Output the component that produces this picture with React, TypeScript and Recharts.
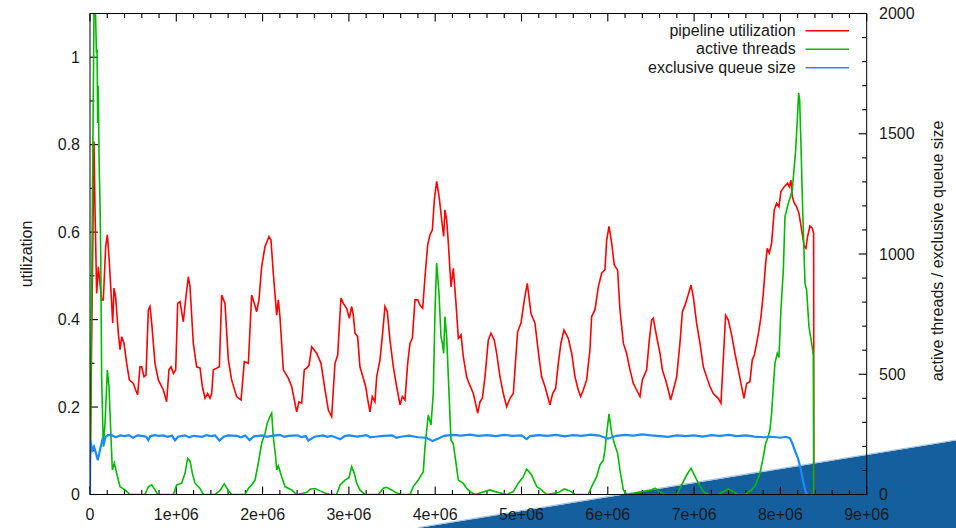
import React from 'react';
import { LineChart, Line, XAxis, YAxis, Legend, ReferenceLine } from 'recharts';

const FONT = '"Liberation Sans", Arial, Helvetica, sans-serif';
const INK = '#1a1a1a';

// pipeline utilization (left axis)
const utilX = [
  0, 25000, 46000, 58000, 77000, 97000, 108000, 135000, 154000, 182000,
  201000, 220000, 251000, 263000, 278000, 297000, 328000, 348000, 367000, 394000,
  425000, 456000, 502000, 529000, 552000, 579000, 599000, 626000, 649000, 676000,
  695000, 715000, 753000, 792000, 850000, 888000, 915000, 939000, 966000, 993000,
  1016000, 1043000, 1081000, 1108000, 1139000, 1159000, 1197000, 1236000, 1275000, 1302000,
  1333000, 1363000, 1390000, 1410000, 1429000, 1468000, 1499000, 1526000, 1564000, 1603000,
  1641000, 1699000, 1750000, 1788000, 1835000, 1873000, 1904000, 1931000, 1958000, 1989000,
  2028000, 2074000, 2097000, 2124000, 2163000, 2182000, 2201000, 2240000, 2298000, 2337000,
  2395000, 2422000, 2453000, 2483000, 2511000, 2538000, 2569000, 2626000, 2677000, 2723000,
  2762000, 2800000, 2839000, 2870000, 2908000, 2935000, 2974000, 3005000, 3032000, 3051000,
  3071000, 3101000, 3128000, 3167000, 3194000, 3225000, 3244000, 3271000, 3302000, 3322000,
  3360000, 3387000, 3418000, 3445000, 3476000, 3515000, 3553000, 3592000, 3619000, 3650000,
  3681000, 3708000, 3735000, 3766000, 3797000, 3824000, 3855000, 3882000, 3913000, 3940000,
  3967000, 3990000, 4017000, 4048000, 4075000, 4098000, 4113000, 4133000, 4152000, 4183000,
  4210000, 4241000, 4268000, 4299000, 4326000, 4364000, 4392000, 4442000, 4492000, 4519000,
  4546000, 4577000, 4615000, 4646000, 4685000, 4712000, 4751000, 4789000, 4828000, 4867000,
  4905000, 4932000, 4955000, 4994000, 5033000, 5067000, 5110000, 5156000, 5195000, 5233000,
  5272000, 5303000, 5330000, 5361000, 5396000, 5426000, 5457000, 5492000, 5542000, 5581000,
  5620000, 5658000, 5685000, 5716000, 5755000, 5793000, 5813000, 5851000, 5890000, 5929000,
  5967000, 5987000, 6014000, 6045000, 6075000, 6114000, 6141000, 6180000, 6218000, 6257000,
  6296000, 6334000, 6373000, 6400000, 6450000, 6481000, 6508000, 6527000, 6566000, 6605000,
  6632000, 6670000, 6701000, 6728000, 6759000, 6798000, 6836000, 6864000, 6895000, 6925000,
  6964000, 6991000, 7029000, 7068000, 7107000, 7145000, 7184000, 7222000, 7280000, 7311000,
  7338000, 7365000, 7396000, 7435000, 7473000, 7512000, 7543000, 7578000, 7609000, 7647000,
  7674000, 7698000, 7725000, 7752000, 7775000, 7802000, 7829000, 7848000, 7871000, 7898000,
  7929000, 7956000, 7983000, 8006000, 8045000, 8084000, 8103000, 8122000, 8138000, 8161000,
  8188000, 8215000, 8246000, 8277000, 8296000, 8315000, 8342000, 8369000, 8385000, 8388000,
];
const utilY = [
  0.03, 0.45, 0.807, 0.651, 0.46, 0.521, 0.498, 0.445, 0.445, 0.567,
  0.594, 0.544, 0.437, 0.392, 0.472, 0.452, 0.369, 0.331, 0.361, 0.346,
  0.3, 0.262, 0.254, 0.239, 0.228, 0.292, 0.292, 0.269, 0.273, 0.422,
  0.43, 0.392, 0.3, 0.262, 0.239, 0.212, 0.285, 0.292, 0.277, 0.285,
  0.437, 0.441, 0.395, 0.445, 0.498, 0.475, 0.346, 0.292, 0.289, 0.247,
  0.22, 0.231, 0.22, 0.231, 0.285, 0.289, 0.292, 0.456, 0.437, 0.308,
  0.262, 0.224, 0.216, 0.304, 0.3, 0.456, 0.437, 0.418, 0.445, 0.521,
  0.567, 0.59, 0.582, 0.506, 0.41, 0.445, 0.407, 0.285, 0.266, 0.247,
  0.189, 0.212, 0.209, 0.285, 0.289, 0.296, 0.338, 0.323, 0.3, 0.239,
  0.193, 0.178, 0.3, 0.319, 0.449, 0.437, 0.426, 0.403, 0.43, 0.41,
  0.369, 0.361, 0.292, 0.266, 0.247, 0.209, 0.189, 0.224, 0.212, 0.269,
  0.308, 0.361, 0.43, 0.418, 0.353, 0.292, 0.247, 0.205, 0.224, 0.216,
  0.3, 0.346, 0.357, 0.445, 0.445, 0.433, 0.426, 0.498, 0.571, 0.594,
  0.605, 0.674, 0.716, 0.677, 0.628, 0.59, 0.651, 0.628, 0.575, 0.475,
  0.517, 0.437, 0.357, 0.365, 0.315, 0.269, 0.254, 0.231, 0.186, 0.212,
  0.22, 0.269, 0.353, 0.369, 0.353, 0.323, 0.269, 0.231, 0.201, 0.22,
  0.231, 0.308, 0.372, 0.392, 0.445, 0.483, 0.414, 0.392, 0.326, 0.269,
  0.247, 0.224, 0.205, 0.231, 0.243, 0.3, 0.346, 0.376, 0.357, 0.323,
  0.269, 0.239, 0.224, 0.239, 0.262, 0.331, 0.407, 0.422, 0.475, 0.506,
  0.514, 0.582, 0.613, 0.575, 0.525, 0.513, 0.422, 0.346, 0.323, 0.285,
  0.254, 0.239, 0.224, 0.262, 0.285, 0.353, 0.399, 0.403, 0.361, 0.323,
  0.285, 0.262, 0.239, 0.216, 0.239, 0.269, 0.346, 0.418, 0.433, 0.452,
  0.479, 0.452, 0.392, 0.346, 0.292, 0.269, 0.247, 0.231, 0.22, 0.209,
  0.308, 0.41, 0.399, 0.365, 0.323, 0.285, 0.254, 0.22, 0.254, 0.258,
  0.308, 0.319, 0.346, 0.376, 0.407, 0.46, 0.529, 0.563, 0.552, 0.575,
  0.651, 0.666, 0.658, 0.693, 0.704, 0.712, 0.704, 0.719, 0.681, 0.666,
  0.658, 0.643, 0.605, 0.567, 0.563, 0.59, 0.614, 0.609, 0.597, 0,
];

// active threads (right axis)
const threadsX = [
  0, 46000, 55000, 64000, 75000, 82000, 89000, 95000, 108000, 116000,
  125000, 135000, 154000, 174000, 201000, 220000, 243000, 259000, 282000, 309000,
  348000, 406000, 463000, 637000, 676000, 715000, 753000, 784000, 966000, 1004000,
  1062000, 1101000, 1132000, 1159000, 1186000, 1217000, 1275000, 1313000, 1448000, 1506000,
  1556000, 1603000, 1641000, 1796000, 1835000, 1873000, 1912000, 1950000, 1989000, 2028000,
  2054000, 2085000, 2105000, 2124000, 2151000, 2163000, 2182000, 2221000, 2259000, 2337000,
  2395000, 2511000, 2549000, 2607000, 2665000, 2723000, 2781000, 2858000, 2897000, 2955000,
  3001000, 3032000, 3063000, 3090000, 3128000, 3186000, 3341000, 3399000, 3437000, 3495000,
  3553000, 3611000, 3708000, 3746000, 3804000, 3862000, 3882000, 3920000, 3951000, 3978000,
  3998000, 4017000, 4044000, 4067000, 4083000, 4098000, 4113000, 4133000, 4152000, 4183000,
  4210000, 4241000, 4268000, 4326000, 4364000, 4403000, 4461000, 4634000, 4692000, 4828000,
  4905000, 4963000, 5021000, 5059000, 5086000, 5117000, 5175000, 5233000, 5291000, 5426000,
  5496000, 5561000, 5619000, 5774000, 5813000, 5871000, 5909000, 5948000, 5967000, 5987000,
  6014000, 6045000, 6075000, 6114000, 6141000, 6180000, 6218000, 6508000, 6547000, 6605000,
  6663000, 6798000, 6856000, 6914000, 6964000, 7003000, 7049000, 7107000, 7164000, 7280000,
  7338000, 7396000, 7454000, 7512000, 7589000, 7667000, 7713000, 7763000, 7802000, 7829000,
  7848000, 7879000, 7898000, 7918000, 7937000, 7964000, 7983000, 8006000, 8034000, 8053000,
  8072000, 8092000, 8111000, 8138000, 8157000, 8177000, 8196000, 8211000, 8223000, 8238000,
  8258000, 8285000, 8304000, 8331000, 8362000, 8381000, 8386000,
];
const threadsY = [
  0, 2000, 2300, 2000, 1836, 1850, 1545, 1700, 1336, 1212,
  975, 490, 199, 296, 518, 448, 240, 102, 130, 88,
  32, 19, 0, 0, 32, 40, 19, 0, 0, 40,
  47, 88, 150, 140, 88, 47, 25, 0, 0, 17,
  44, 17, 0, 0, 25, 40, 60, 130, 213, 254,
  296, 324, 338, 240, 157, 102, 120, 74, 33, 19,
  0, 8, 22, 25, 15, 6, 0, 0, 40, 60,
  70, 116, 88, 47, 19, 0, 0, 26, 30, 19,
  6, 0, 0, 33, 60, 95, 199, 331, 289, 421,
  767, 962, 837, 656, 629, 587, 740, 656, 490, 227,
  210, 130, 60, 46, 26, 12, 0, 19, 12, 0,
  12, 47, 74, 105, 95, 81, 33, 19, 0, 8,
  23, 15, 0, 0, 33, 74, 123, 143, 185, 254,
  335, 254, 213, 171, 102, 19, 0, 19, 26, 12,
  0, 0, 40, 81, 109, 81, 47, 12, 0, 0,
  12, 23, 12, 0, 0, 19, 40, 88, 157, 213,
  230, 268, 338, 448, 546, 587, 570, 767, 934, 1155,
  1183, 1211, 1232, 1266, 1350, 1433, 1558, 1669, 1640, 1461,
  1183, 878, 850, 698, 629, 580, 0,
];

// exclusive queue size (right axis)
const queueX = [
  0, 2000, 27000, 46000, 70000, 89000, 104000, 124000, 143000, 162000,
  182000, 208000, 250000, 300000, 350000, 400000, 450000, 500000, 550000, 600000,
  650000, 676000, 700000, 750000, 800000, 850000, 900000, 950000, 985000, 1020000,
  1100000, 1150000, 1200000, 1300000, 1350000, 1400000, 1450000, 1500000, 1550000, 1600000,
  1700000, 1750000, 1800000, 1850000, 1900000, 2000000, 2050000, 2100000, 2200000, 2250000,
  2300000, 2400000, 2450000, 2500000, 2530000, 2600000, 2700000, 2750000, 2800000, 2900000,
  2950000, 3000000, 3100000, 3200000, 3250000, 3300000, 3400000, 3500000, 3550000, 3600000,
  3700000, 3800000, 3900000, 3970000, 4050000, 4100000, 4200000, 4300000, 4400000, 4500000,
  4600000, 4700000, 4800000, 4900000, 5000000, 5060000, 5100000, 5200000, 5300000, 5400000,
  5500000, 5600000, 5700000, 5800000, 5900000, 6000000, 6100000, 6200000, 6300000, 6400000,
  6500000, 6600000, 6700000, 6800000, 6900000, 7000000, 7100000, 7200000, 7300000, 7400000,
  7500000, 7600000, 7700000, 7800000, 7900000, 8000000, 8060000, 8111000, 8138000, 8165000,
  8204000, 8238000, 8265000, 8292000, 8310000,
];
const queueY = [
  0, 227, 185, 199, 171, 143, 164, 199, 227, 213,
  240, 247, 247, 238, 246, 243, 247, 236, 246, 244,
  240, 226, 243, 247, 244, 246, 240, 245, 225, 240,
  246, 238, 244, 240, 247, 243, 246, 224, 240, 246,
  244, 238, 245, 226, 242, 246, 240, 244, 248, 240,
  244, 246, 239, 243, 224, 240, 246, 240, 244, 230,
  243, 246, 241, 247, 238, 240, 244, 246, 236, 240,
  245, 238, 236, 222, 235, 244, 248, 245, 249, 244,
  247, 243, 248, 244, 246, 230, 243, 247, 244, 248,
  242, 247, 244, 249, 245, 232, 244, 248, 245, 250,
  246, 243, 240, 246, 243, 246, 241, 247, 244, 248,
  243, 246, 241, 238, 240, 236, 240, 234, 213, 185,
  150, 102, 53, 12, 0,
];

// axis ticks: labelled (major) and unlabelled (minor)
const utilMajor = [0, 0.2, 0.4, 0.6, 0.8, 1];
const utilMinor = [0.1, 0.3, 0.5, 0.7, 0.9];
const countMajor = [0, 500, 1000, 1500, 2000];
const countMinor = [
  100, 200, 300, 400, 600, 700, 800, 900, 1100, 1200,
  1300, 1400, 1600, 1700, 1800, 1900,
];
const xMajor = [0, 1000000, 2000000, 3000000, 4000000, 5000000, 6000000, 7000000, 8000000, 9000000];
const xMinor = [
  200000, 400000, 600000, 800000, 1200000, 1400000, 1600000, 1800000,
  2200000, 2400000, 2600000, 2800000, 3200000, 3400000, 3600000, 3800000,
  4200000, 4400000, 4600000, 4800000, 5200000, 5400000, 5600000, 5800000,
  6200000, 6400000, 6600000, 6800000, 7200000, 7400000, 7600000, 7800000,
  8200000, 8400000, 8600000, 8800000,
];

const seriesNames = ['pipeline utilization', 'active threads', 'exclusive queue size'];

const utilData = utilX.map((x, i) => ({ x, v: utilY[i] }));
const threadsData = threadsX.map((x, i) => ({ x, v: threadsY[i] }));
const queueData = queueX.map((x, i) => ({ x, v: queueY[i] }));

const X_MAX = 9000000;
const C_MAX = 2000;
// inward tick lengths (about 8px major, 4.5px minor) in axis units
const TX_MAJ = 93000;
const TX_MIN = 52000;
const TY_MAJ = 33;
const TY_MIN = 19;

const fmtX = (v: number) => (v === 0 ? '0' : `${v / 1000000}e+06`);
const black = { stroke: '#000', strokeWidth: 1 };

function LeftLabel({ x, y, payload }: any) {
  return (
    <text x={x} y={y + 5.6} textAnchor="end" fontFamily={FONT} fontSize={16} fill={INK}>
      {String(payload.value)}
    </text>
  );
}

function RightLabel({ x, y, payload }: any) {
  return (
    <text x={x} y={y + 5.6} textAnchor="start" fontFamily={FONT} fontSize={16} fill={INK}>
      {String(payload.value)}
    </text>
  );
}

function BottomLabel({ x, y, payload }: any) {
  return (
    <text x={x} y={y + 14} textAnchor="middle" fontFamily={FONT} fontSize={16} fill={INK}>
      {fmtX(payload.value)}
    </text>
  );
}

const LeftTitle = () => (
  <text transform="translate(31.5 254) rotate(-90)" textAnchor="middle" fontFamily={FONT} fontSize={16} fill={INK}>
    utilization
  </text>
);

const RightTitle = () => (
  <text transform="translate(942.5 251) rotate(-90)" textAnchor="middle" fontFamily={FONT} fontSize={16} fill={INK}>
    active threads / exclusive queue size
  </text>
);

function KeyBox(props: any) {
  const items = [...(props.payload ?? [])].sort(
    (a: any, b: any) => seriesNames.indexOf(a.value) - seriesNames.indexOf(b.value)
  );
  return (
    <svg width={956} height={80} style={{ display: 'block' }}>
      {items.map((it: any, i: number) => {
        const cy = 30.7 + i * 18.5;
        return (
          <g key={it.value}>
            <text x={795.7} y={cy + 5} textAnchor="end" fontFamily={FONT} fontSize={16} fill={INK}>
              {it.value}
            </text>
            <line x1={805.5} y1={cy} x2={849} y2={cy} stroke={it.color} strokeWidth={1.5} />
          </g>
        );
      })}
    </svg>
  );
}

// gnuplot-style inward ticks on all four sides of the frame
function frameTicks() {
  const out: React.ReactNode[] = [];
  const seg = (key: string, yAxisId: string, a: { x: number; y: number }, b: { x: number; y: number }) => (
    <ReferenceLine
      key={key}
      xAxisId="bottom"
      yAxisId={yAxisId}
      segment={[a, b]}
      stroke="#000"
      strokeWidth={1.1}
      ifOverflow="visible"
    />
  );
  const xs = [...xMajor.map((v) => [v, TY_MAJ]), ...xMinor.map((v) => [v, TY_MIN])];
  xs.forEach(([v, len]) => {
    out.push(seg(`b${v}`, 'right', { x: v, y: 0 }, { x: v, y: len }));
    out.push(seg(`t${v}`, 'right', { x: v, y: C_MAX }, { x: v, y: C_MAX - len }));
  });
  const ls = [...utilMajor.map((v) => [v, TX_MAJ]), ...utilMinor.map((v) => [v, TX_MIN])];
  ls.forEach(([v, len]) => {
    out.push(seg(`l${v}`, 'left', { x: 0, y: v }, { x: len, y: v }));
  });
  const rs = [...countMajor.map((v) => [v, TX_MAJ]), ...countMinor.map((v) => [v, TX_MIN])];
  rs.forEach(([v, len]) => {
    out.push(seg(`r${v}`, 'right', { x: X_MAX, y: v }, { x: X_MAX - len, y: v }));
  });
  return out;
}

export default function App() {
  return (
    <div style={{ position: 'absolute', left: 0, top: 0, width: 956, height: 528, background: '#fff', fontFamily: FONT }}>
      <svg width={956} height={528} style={{ position: 'absolute', left: 0, top: 0 }}>
        <polygon points="418,528 956,440.5 956,528" fill="#145f9e" />
        <line x1={418} y1={527.5} x2={956} y2={440} stroke="#a9c6e0" strokeWidth={1.2} />
      </svg>
      <div style={{ position: 'absolute', left: 0, top: 0 }}>
        <LineChart width={956} height={528} margin={{ top: 13.49, right: 29.3, bottom: 3.5, left: 30 }}>
          <XAxis
            xAxisId="bottom"
            type="number"
            dataKey="x"
            domain={[0, X_MAX]}
            allowDataOverflow
            ticks={xMajor}
            interval={0}
            height={30}
            tickSize={0}
            tickMargin={11.5}
            tickLine={false}
            axisLine={black}
            tick={BottomLabel}
          />
          <XAxis
            xAxisId="top"
            orientation="top"
            type="number"
            dataKey="x"
            domain={[0, X_MAX]}
            allowDataOverflow
            ticks={xMajor}
            height={0.01}
            tickSize={0}
            tickLine={false}
            axisLine={black}
            tick={false}
          />
          <YAxis
            yAxisId="left"
            orientation="left"
            type="number"
            domain={[0, 1.1]}
            allowDataOverflow
            ticks={utilMajor}
            interval={0}
            width={60}
            tickSize={0}
            tickMargin={10}
            tickLine={false}
            axisLine={black}
            tick={LeftLabel}
            label={<LeftTitle />}
          />
          <YAxis
            yAxisId="right"
            orientation="right"
            type="number"
            domain={[0, C_MAX]}
            allowDataOverflow
            ticks={countMajor}
            interval={0}
            width={60}
            tickSize={0}
            tickMargin={12.3}
            tickLine={false}
            axisLine={black}
            tick={RightLabel}
            label={<RightTitle />}
          />
          <Legend
            layout="vertical"
            align="center"
            verticalAlign="middle"
            wrapperStyle={{ top: 0, left: 0, width: 956, height: 80 }}
            content={KeyBox}
          />
          {frameTicks()}
          <Line
            xAxisId="bottom"
            yAxisId="left"
            data={utilData}
            dataKey="v"
            name="pipeline utilization"
            type="linear"
            stroke="#ff0000"
            strokeWidth={1.6}
            dot={false}
            isAnimationActive={false}
          />
          <Line
            xAxisId="bottom"
            yAxisId="right"
            data={threadsData}
            dataKey="v"
            name="active threads"
            type="linear"
            stroke="#00bb00"
            strokeWidth={1.6}
            dot={false}
            isAnimationActive={false}
          />
          <Line
            xAxisId="bottom"
            yAxisId="right"
            data={queueData}
            dataKey="v"
            name="exclusive queue size"
            type="linear"
            stroke="#1a8cff"
            strokeWidth={2.2}
            dot={false}
            isAnimationActive={false}
          />
        </LineChart>
      </div>
    </div>
  );
}
